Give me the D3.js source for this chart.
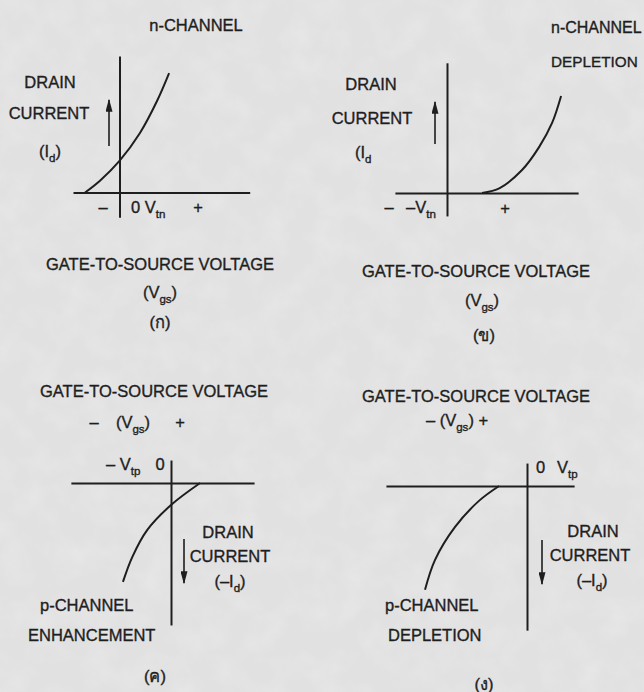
<!DOCTYPE html>
<html>
<head>
<meta charset="utf-8">
<script src="https://cdn.jsdelivr.net/npm/d3@7"></script>
<style>
  html, body { margin: 0; padding: 0; background: #e6e6e6; }
  svg { display: block; }
  text { font-family: "Liberation Sans", Arial, sans-serif; fill: #1e1e1e; stroke: #1e1e1e; stroke-width: 0.35px; }
</style>
</head>
<body>
<svg id="chart" width="644" height="692"></svg>
<script>
// Transfer characteristics of the four MOSFET types (gate-to-source voltage vs drain current, arbitrary units)

// (ก) n-channel enhancement
const nEnhVgs = [-1.11, -0.63, 0.0, 0.66, 1.21, 1.6];
const nEnhId  = [0.0, 0.38, 1.02, 1.92, 2.95, 3.85];

// (ข) n-channel depletion
const nDepVgs = [1.13, 1.7, 2.42, 2.97, 3.39, 3.68];
const nDepId  = [0.0, 0.16, 0.74, 1.48, 2.26, 3.13];

// (ค) p-channel enhancement
const pEnhVgs = [-1.55, -1.25, -0.77, 0.0, 0.94];
const pEnhId  = [-3.19, -2.39, -1.52, -0.71, 0.0];

// (ง) p-channel depletion
const pDepVgs = [-3.29, -2.97, -2.32, -1.55, -0.9];
const pDepId  = [-3.35, -2.39, -1.32, -0.48, 0.0];

// axis extents of each panel (same units as above)
const vgsDomains = [[-1.5, 4.2], [-1.68, 4.23], [-3.23, 2.68], [-4.55, 1.52]];
const idDomains  = [[-0.8, 4.4], [-0.74, 4.2], [-4.58, 0.74], [-4.65, 0.74]];

const captions = ["(ก)", "(ข)", "(ค)", "(ง)"];

// ---------------------------------------------------------------------------
const svg = d3.select("#chart");
const ink = "#1e1e1e";
const UNIT = 31;
const FS = 16.5;

// paper texture
const defs = svg.append("defs");
const paper = defs.append("filter").attr("id", "paper")
  .attr("x", 0).attr("y", 0).attr("width", "100%").attr("height", "100%");
paper.append("feTurbulence").attr("type", "fractalNoise")
  .attr("baseFrequency", 0.035).attr("numOctaves", 3).attr("seed", 7);
paper.append("feColorMatrix").attr("type", "matrix")
  .attr("values", "0 0 0 0 1  0 0 0 0 1  0 0 0 0 1  0.9 0 0 0 -0.35");
svg.append("rect").attr("width", 644).attr("height", 692).attr("fill", "#e1e1e1");
svg.append("rect").attr("width", 644).attr("height", 692).attr("filter", "url(#paper)").attr("opacity", 0.4);

defs.append("marker").attr("id", "head")
  .attr("viewBox", "0 0 10 10").attr("refX", 9).attr("refY", 5)
  .attr("markerUnits", "userSpaceOnUse")
  .attr("markerWidth", 13).attr("markerHeight", 7).attr("orient", "auto")
  .attr("preserveAspectRatio", "none")
  .append("path").attr("d", "M0,0 L10,5 L0,10 Z").attr("fill", ink);

// origin of each panel (where Vgs = 0 and Id = 0 meet)
const origins = [[119.5, 192.5], [447, 193], [171, 483], [527, 486]];

function scalesFor(i) {
  const [ox, oy] = origins[i];
  const x = d3.scaleLinear().domain(vgsDomains[i])
    .range(vgsDomains[i].map(v => ox + v * UNIT));
  const y = d3.scaleLinear().domain(idDomains[i])
    .range(idDomains[i].map(v => oy - v * UNIT));
  return { x, y };
}

// text with optional subscripts: parts = [["(V"], ["gs", "sub"], [")"]]
function label(x, y, parts, anchor = "middle", size = FS) {
  const t = svg.append("text").attr("x", x).attr("y", y)
    .attr("text-anchor", anchor).attr("font-size", size);
  let down = false;
  parts.forEach(([s, kind]) => {
    const ts = t.append("tspan").text(s);
    if (kind === "sub" && !down) { ts.attr("dy", 4.5).attr("font-size", size * 0.7); down = true; }
    else if (kind === "sub") { ts.attr("font-size", size * 0.7); }
    else if (down) { ts.attr("dy", -4.5); down = false; }
  });
  return t;
}

function drawPanel(i, vgs, id) {
  const { x, y } = scalesFor(i);
  const g = svg.append("g");
  // axes: domain lines only, crossing at the origin
  const ax = g.append("g").attr("transform", `translate(0,${y(0)})`)
    .call(d3.axisBottom(x).tickValues([]).tickSizeOuter(0));
  const ay = g.append("g").attr("transform", `translate(${x(0)},0)`)
    .call(d3.axisLeft(y).tickValues([]).tickSizeOuter(0));
  [ax, ay].forEach(a => a.select(".domain").attr("stroke", ink).attr("stroke-width", 2));

  const pts = vgs.map((v, k) => [v, id[k]]);
  g.append("path").datum(pts)
    .attr("fill", "none").attr("stroke", ink).attr("stroke-width", 2)
    .attr("d", d3.line().x(d => x(d[0])).y(d => y(d[1])).curve(d3.curveCatmullRom.alpha(0.5)));
  return g;
}

function arrow(x, y1, y2) {
  svg.append("line").attr("x1", x).attr("x2", x).attr("y1", y1).attr("y2", y2)
    .attr("stroke", ink).attr("stroke-width", 1.6).attr("marker-end", "url(#head)");
}

// (ก) n-channel enhancement
drawPanel(0, nEnhVgs, nEnhId);
label(196, 31, [["n-CHANNEL"]]);
label(50, 88, [["DRAIN"]]);
label(49, 119, [["CURRENT"]]);
label(50, 157, [["(I"], ["d", "sub"], [")"]]);
arrow(109, 146, 100);
label(103, 213, [["\u2013"]]);
label(131, 213, [["0 V"], ["tn", "sub"]], "start");
label(198, 213, [["+"]]);
label(160, 270, [["GATE-TO-SOURCE VOLTAGE"]]);
label(160, 298, [["(V"], ["gs", "sub"], [")"]]);
label(160, 328, [[captions[0]]]);

// (ข) n-channel depletion
drawPanel(1, nDepVgs, nDepId);
label(551, 33, [["n-CHANNEL"]], "start", 16);
label(551, 67, [["DEPLETION"]], "start", 15.3);
label(371, 90, [["DRAIN"]]);
label(372, 124, [["CURRENT"]]);
label(355, 158, [["(I"], ["d", "sub"]], "start");
arrow(435, 144, 102);
label(389, 213, [["\u2013"]]);
label(406, 213, [["\u2013V"], ["tn", "sub"]], "start");
label(505, 214, [["+"]]);
label(476, 277, [["GATE-TO-SOURCE VOLTAGE"]]);
label(482, 306, [["(V"], ["gs", "sub"], [")"]]);
label(484, 341, [[captions[1]]]);

// (ค) p-channel enhancement
label(154, 397, [["GATE-TO-SOURCE VOLTAGE"]]);
label(94, 428, [["\u2013"]]);
label(133, 428, [["(V"], ["gs", "sub"], [")"]]);
label(180, 428, [["+"]]);
drawPanel(2, pEnhVgs, pEnhId);
label(106, 470, [["\u2013 V"], ["tp", "sub"]], "start");
label(160, 470, [["0"]]);
arrow(184, 539, 583);
label(228, 538, [["DRAIN"]]);
label(230, 562, [["CURRENT"]]);
label(230, 587, [["(\u2013I"], ["d", "sub"], [")"]]);
label(40, 611, [["p-CHANNEL"]], "start");
label(28, 641, [["ENHANCEMENT"]], "start");
label(155, 682, [[captions[2]]]);

// (ง) p-channel depletion
label(476, 402, [["GATE-TO-SOURCE VOLTAGE"]]);
label(457, 426, [["\u2013 (V"], ["gs", "sub"], [") +"]]);
drawPanel(3, pDepVgs, pDepId);
label(536, 473, [["0"]], "start");
label(557, 473, [["V"], ["tp", "sub"]], "start");
arrow(542, 540, 584);
label(593, 537, [["DRAIN"]]);
label(590, 561, [["CURRENT"]]);
label(592, 586, [["(\u2013I"], ["d", "sub"], [")"]]);
label(385, 611, [["p-CHANNEL"]], "start");
label(388, 641, [["DEPLETION"]], "start");
label(484, 690, [[captions[3]]]);
</script>
</body>
</html>
